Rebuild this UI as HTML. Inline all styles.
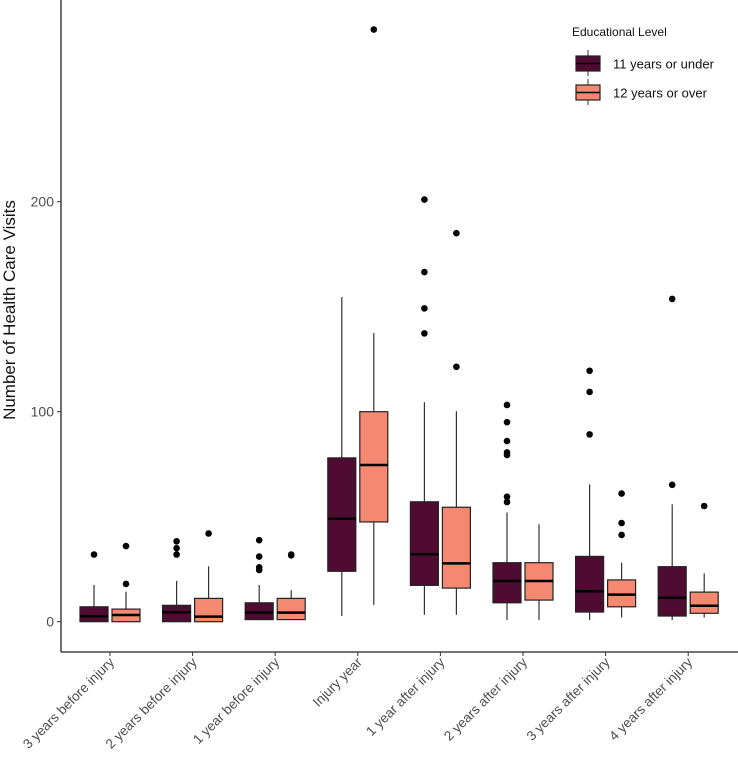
<!DOCTYPE html>
<html><head><meta charset="utf-8"><style>
html,body{margin:0;padding:0;background:#fff;}
svg{display:block;font-family:"Liberation Sans",Arial,sans-serif;}
</style></head><body>
<svg id="chart" width="738" height="763" viewBox="0 0 738 763"></svg>
<script>
const categories=["3 years before injury","2 years before injury","1 year before injury","Injury year","1 year after injury","2 years after injury","3 years after injury","4 years after injury"];
const groups=["11 years or under","12 years or over"];
const groupColors=["#4f0b32","#f48871"];
// [whiskerLow, q1, median, q3, whiskerHigh]
const statsUnder=[[0,0,2.6,7.1,17.5],[0,0,4.5,7.8,19.4],[1,1,4.3,9,17.5],[2.7,24,49,78,154.6],[3.3,17.3,32.1,57.1,104.5],[0.8,9,19.4,28.1,52],[0.8,4.6,14.5,31.1,65.4],[0.8,2.7,11.4,26.2,55.9]];
const statsOver=[[0,0,3.2,6,14.3],[0,0,2.4,11.1,26.4],[1,1,4.3,11.1,15],[8,47.5,74.6,100,137.5],[3.3,16,27.8,54.5,100.2],[0.8,10.3,19.4,28.1,46.4],[2,7.1,12.9,19.9,28.1],[2,4,7.6,14.1,23]];
const outliersUnder=[[32],[38.3,35,32],[38.8,31,25.9,24.6],[],[201,166.5,149.2,137.3],[103.2,95,86,80.6,79.4,59.5,57],[119.5,109.4,89.2],[153.7,65.2]];
const outliersOver=[[36,18],[42],[31.6,32],[282],[185,121.4],[],[61,47,41.3],[55.1]];
const yTicks=[0,100,200];

const svg=document.getElementById('chart');
const NS="http://www.w3.org/2000/svg";
function mk(t,a,p){const e=document.createElementNS(NS,t);for(const k in a)e.setAttribute(k,a[k]);(p||svg).appendChild(e);return e;}
const plotL=61,plotB=652,x0=110,step=82.6;
function y(v){return 621.7-v*2.1;}
function xc(i){return x0+i*step;}

const ax=mk('g',{});


mk('line',{x1:plotL,y1:0,x2:plotL,y2:plotB,stroke:'#222','stroke-width':1.3},ax);
mk('line',{x1:plotL,y1:plotB,x2:738,y2:plotB,stroke:'#222','stroke-width':1.3},ax);
yTicks.forEach(v=>{
  mk('line',{x1:plotL-4,y1:y(v),x2:plotL,y2:y(v),stroke:'#333','stroke-width':1},ax);
  const t=mk('text',{x:plotL-7,y:y(v)+5,'text-anchor':'end','font-size':14,fill:'#4d4d4d'},ax);
  t.textContent=v;
  
  
});
const yl=mk('text',{x:0,y:0,transform:'translate(15,310) rotate(-90)','text-anchor':'middle','font-size':17,fill:'#111'});
yl.textContent="Number of Health Care Visits";


categories.forEach((c,i)=>{
  mk('line',{x1:xc(i),y1:plotB,x2:xc(i),y2:plotB+4,stroke:'#333'},ax);
  const t=mk('text',{x:0,y:0,transform:`translate(${xc(i)+5},${plotB+11}) rotate(-45)`,'text-anchor':'end','font-size':13.5,fill:'#4d4d4d'});
  t.textContent=c;
  
  
});

function drawBox(cx,s,col,outs,name){
  const g=mk('g',{});
  
  
  const w=28;
  mk('line',{x1:cx,y1:y(s[4]),x2:cx,y2:y(s[3]),stroke:'#333','stroke-width':1.2},g);
  mk('line',{x1:cx,y1:y(s[1]),x2:cx,y2:y(s[0]),stroke:'#333','stroke-width':1.2},g);
  mk('rect',{x:cx-w/2,y:y(s[3]),width:w,height:Math.max(y(s[1])-y(s[3]),1),fill:col,stroke:'#222','stroke-width':1.2},g);
  mk('line',{x1:cx-w/2,y1:y(s[2]),x2:cx+w/2,y2:y(s[2]),stroke:'#000','stroke-width':2.5},g);
  outs.forEach(o=>{mk('circle',{cx:cx,cy:y(o),r:3.3,fill:'#000'},g);});
}
categories.forEach((c,i)=>{
  drawBox(xc(i)-16,statsUnder[i],groupColors[0],outliersUnder[i],'box-under-'+i);
  drawBox(xc(i)+16,statsOver[i],groupColors[1],outliersOver[i],'box-over-'+i);
});

const lg=mk('g',{});


const lt=mk('text',{x:572,y:36,'font-size':12,fill:'#111'},lg);
lt.textContent="Educational Level";
[[56,71],[85,100]].forEach((r,k)=>{
  const e=mk('g',{},lg);
  
  
  mk('line',{x1:588,y1:r[0]-6,x2:588,y2:r[1]+5,stroke:'#333'},e);
  mk('rect',{x:576,y:r[0],width:24,height:r[1]-r[0],fill:groupColors[k],stroke:'#222','stroke-width':1.2},e);
  mk('line',{x1:576,y1:(r[0]+r[1])/2,x2:600,y2:(r[0]+r[1])/2,stroke:'#000','stroke-width':1.5},e);
  const t=mk('text',{x:613,y:(r[0]+r[1])/2+5,'font-size':13,fill:'#111'},e);
  t.textContent=groups[k];
});
</script>
</body></html>
